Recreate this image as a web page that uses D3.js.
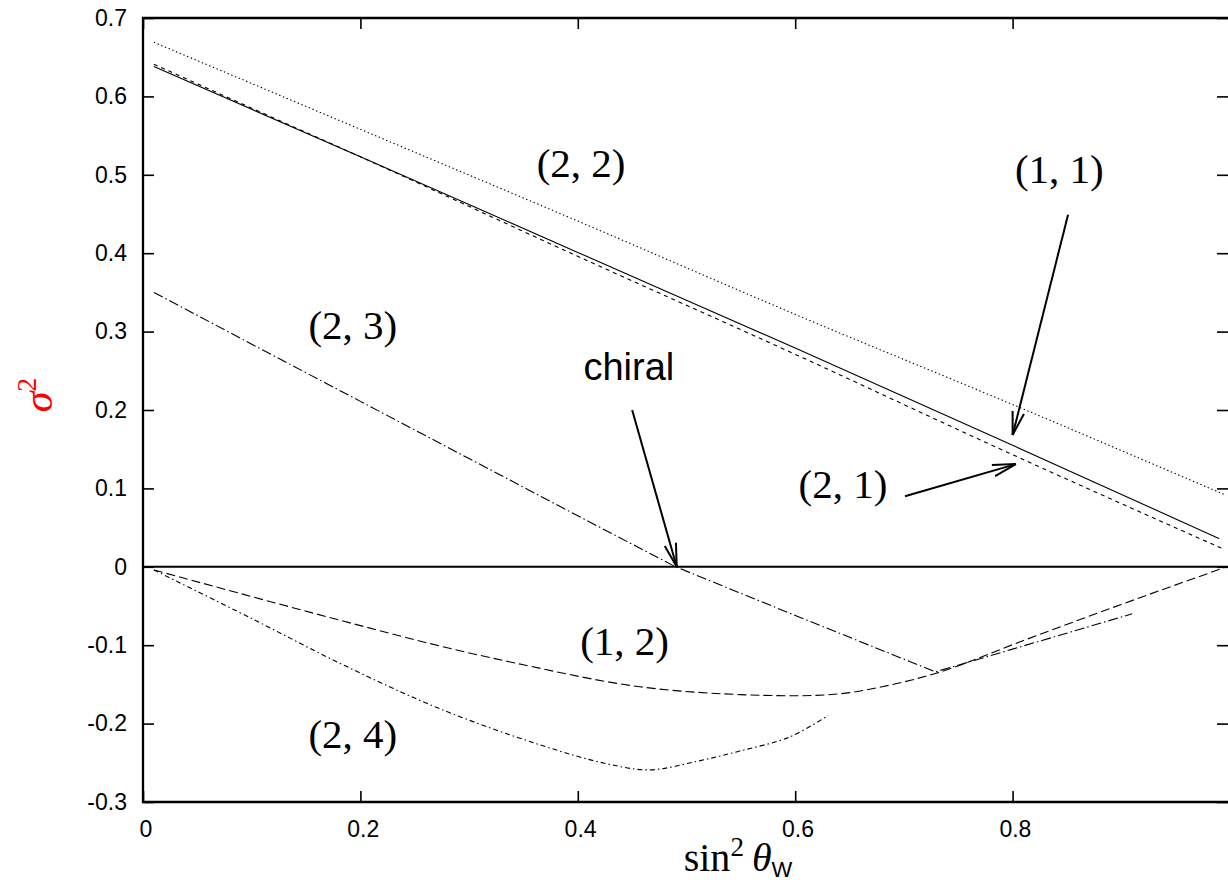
<!DOCTYPE html>
<html>
<head>
<meta charset="utf-8">
<script src="https://cdn.jsdelivr.net/npm/d3@7"></script>
<style>
  html, body { margin: 0; padding: 0; background: #fff; }
  svg { display: block; }
</style>
</head>
<body>
<svg id="chart" width="1228" height="882"></svg>
<script>
// sigma^2 versus sin^2(theta_W) for the (n, m) solutions
const s11X = [0.01, 0.2, 0.4, 0.6, 0.8, 0.99];
const s11Y = [0.638, 0.523, 0.401, 0.279, 0.155, 0.036];

const s22X = [0.01, 0.2, 0.4, 0.6, 0.8, 0.995];
const s22Y = [0.669, 0.558, 0.441, 0.322, 0.207, 0.092];

const s21X = [0.01, 0.1, 0.2, 0.4, 0.6, 0.8, 0.995];
const s21Y = [0.641, 0.585, 0.523, 0.396, 0.271, 0.143, 0.022];

const s23X = [0.01, 0.1, 0.2, 0.3, 0.4, 0.49, 0.6, 0.729, 0.8, 0.91];
const s23Y = [0.350, 0.284, 0.211, 0.138, 0.065, 0.0, -0.062, -0.134, -0.105, -0.060];

const s12X = [0.01, 0.1, 0.2, 0.273, 0.35, 0.457, 0.549, 0.6, 0.641, 0.68, 0.729, 0.81, 0.9, 0.997];
const s12Y = [-0.004, -0.038, -0.075, -0.101, -0.125, -0.153, -0.163, -0.1645, -0.162, -0.153, -0.136, -0.094, -0.048, 0.0];

const s24X = [0.01, 0.1, 0.187, 0.273, 0.365, 0.426, 0.466, 0.51, 0.549, 0.595, 0.63];
const s24Y = [-0.004, -0.066, -0.127, -0.181, -0.227, -0.251, -0.259, -0.248, -0.235, -0.217, -0.190];

const xTicks = [0, 0.2, 0.4, 0.6, 0.8];
const xTickLabels = ["0", "0.2", "0.4", "0.6", "0.8"];
const yTicks = [-0.3, -0.2, -0.1, 0, 0.1, 0.2, 0.3, 0.4, 0.5, 0.6, 0.7];
const yTickLabels = ["-0.3", "-0.2", "-0.1", "0", "0.1", "0.2", "0.3", "0.4", "0.5", "0.6", "0.7"];

// curve labels: text, x, baseline y (data units)
const labelText = ["(2, 2)", "(1, 1)", "(2, 3)", "(2, 1)", "(1, 2)", "(2, 4)"];
const labelX = [0.403, 0.843, 0.193, 0.644, 0.443, 0.193];
const labelY = [0.497, 0.490, 0.290, 0.088, -0.112, -0.231];

// arrows: from -> to (data units)
const arrowFromX = [0.450, 0.851, 0.701];
const arrowFromY = [0.200, 0.449, 0.090];
const arrowToX = [0.491, 0.800, 0.803];
const arrowToY = [0.000, 0.168, 0.131];

const svg = d3.select("#chart");
const W = 1228, H = 882;
const pL = 143, pR = 1230, pT = 18, pB = 802;

const x = d3.scaleLinear().domain([0, 1]).range([pL, pR]);
const y = d3.scaleLinear().domain([-0.3, 0.7]).range([pB, pT]);

svg.append("rect").attr("width", W).attr("height", H).attr("fill", "#fff");

const tickFont = "'Liberation Sans', Arial, sans-serif";
const mathFont = "'Liberation Serif', 'DejaVu Serif', serif";

// left axis with inward ticks
const gL = svg.append("g").attr("transform", `translate(${pL},0)`)
  .call(d3.axisLeft(y).tickValues(yTicks).tickSize(-11).tickPadding(16)
    .tickFormat((d, i) => yTickLabels[i]));
// bottom axis with inward ticks
const gB = svg.append("g").attr("transform", `translate(0,${pB})`)
  .call(d3.axisBottom(x).tickValues(xTicks).tickSize(-11).tickPadding(19)
    .tickFormat((d, i) => xTickLabels[i]));
// mirrored ticks on top and right
const gT = svg.append("g").attr("transform", `translate(0,${pT})`)
  .call(d3.axisTop(x).tickValues(xTicks).tickSize(-11).tickFormat(""));
const gR = svg.append("g").attr("transform", `translate(${pR - 2},0)`)
  .call(d3.axisRight(y).tickValues(yTicks).tickSize(-11).tickFormat(""));

[gL, gB, gT, gR].forEach(g => {
  g.select(".domain").remove();
  g.selectAll(".tick line").attr("stroke", "#000").attr("stroke-width", 1.6);
  g.selectAll(".tick text").attr("fill", "#000")
    .style("font-family", tickFont).style("font-size", "23px");
});
gB.selectAll(".tick text").attr("dx", "0.1em");

// zero line
svg.append("line")
  .attr("x1", x(0)).attr("x2", pR)
  .attr("y1", y(0)).attr("y2", y(0))
  .attr("stroke", "#000").attr("stroke-width", 2);

// curves
const series = [
  { xs: s11X, ys: s11Y, dash: null, curve: d3.curveMonotoneX },
  { xs: s22X, ys: s22Y, dash: "1.4,2.6", curve: d3.curveMonotoneX },
  { xs: s21X, ys: s21Y, dash: "4,4", curve: d3.curveMonotoneX },
  { xs: s23X, ys: s23Y, dash: "10,3,1.5,3", curve: d3.curveLinear },
  { xs: s12X, ys: s12Y, dash: "9,4", curve: d3.curveMonotoneX },
  { xs: s24X, ys: s24Y, dash: "5,3,1.5,3", curve: d3.curveCatmullRom.alpha(0.5) }
];

series.forEach(s => {
  const pts = s.xs.map((v, i) => [v, s.ys[i]]);
  const line = d3.line().x(d => x(d[0])).y(d => y(d[1])).curve(s.curve);
  svg.append("path")
    .attr("d", line(pts))
    .attr("fill", "none")
    .attr("stroke", "#000")
    .attr("stroke-width", 1.1)
    .attr("stroke-dasharray", s.dash);
});

// arrows with open heads
arrowFromX.forEach((fx, i) => {
  const x0 = x(fx), y0 = y(arrowFromY[i]);
  const x1 = x(arrowToX[i]), y1 = y(arrowToY[i]);
  const ang = Math.atan2(y0 - y1, x0 - x1);
  const len = 24, spread = 14 * Math.PI / 180;
  const g = svg.append("g").attr("stroke", "#000").attr("stroke-width", 2).attr("fill", "none");
  g.append("line").attr("x1", x0).attr("y1", y0).attr("x2", x1).attr("y2", y1);
  [ang - spread, ang + spread].forEach(a => {
    g.append("line").attr("x1", x1).attr("y1", y1)
      .attr("x2", x1 + len * Math.cos(a)).attr("y2", y1 + len * Math.sin(a));
  });
});

// curve labels
labelText.forEach((t, i) => {
  svg.append("text")
    .attr("x", x(labelX[i])).attr("y", y(labelY[i]))
    .attr("text-anchor", "middle")
    .style("font-family", mathFont)
    .style("font-size", "41px")
    .text(t);
});

svg.append("text")
  .attr("x", x(0.447)).attr("y", y(0.2385))
  .attr("text-anchor", "middle")
  .style("font-family", tickFont)
  .style("font-size", "38px")
  .text("chiral");

// border
svg.append("path")
  .attr("d", `M${pR},${pT}H${pL}V${pB}H${pR}`)
  .attr("fill", "none").attr("stroke", "#000").attr("stroke-width", 2.3);

// axis titles
const xt = svg.append("text")
  .attr("x", 738).attr("y", 871)
  .attr("text-anchor", "middle")
  .style("font-family", mathFont)
  .style("font-size", "40px");
xt.append("tspan").text("sin");
xt.append("tspan").attr("dy", -15).style("font-size", "27px").text("2");
xt.append("tspan").attr("dy", 15).attr("dx", 8).style("font-style", "italic").text("θ");
xt.append("tspan").attr("dy", 6).style("font-family", tickFont).style("font-size", "22px").text("W");

const yt = svg.append("text")
  .attr("transform", "translate(52,395) rotate(-90)")
  .attr("text-anchor", "middle")
  .attr("fill", "#ff0000")
  .style("font-family", mathFont)
  .style("font-size", "42px");
yt.append("tspan").style("font-style", "italic").text("σ");
yt.append("tspan").attr("dy", -16).style("font-size", "28px").text("2");
</script>
</body>
</html>
